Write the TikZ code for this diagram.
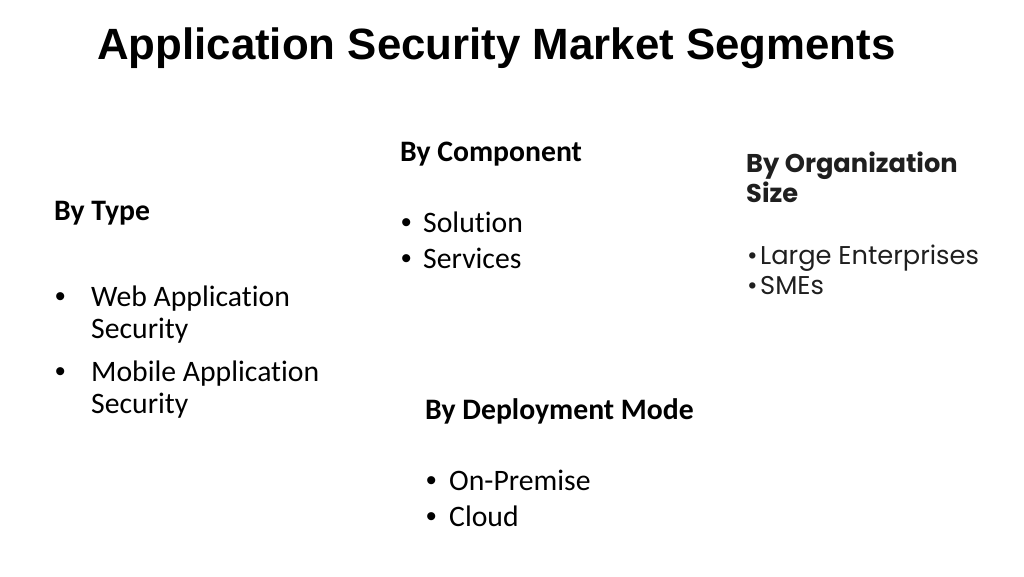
\documentclass[tikz,border=0pt]{standalone}
\usepackage{fontspec}
\setmainfont[Ligatures=NoCommon]{Carlito}
\newfontfamily\titlefont{Liberation Sans}
\newfontfamily\popfont{Poppins}
\usetikzlibrary{positioning}
\tikzset{
  titletext/.style={anchor=base west, inner sep=0pt, font=\titlefont\bfseries\fontsize{43.8}{50}\selectfont},
  headtext/.style={anchor=base west, inner sep=0pt, font=\bfseries\fontsize{29.7}{35}\selectfont},
  itemtext/.style={anchor=base west, inner sep=0pt, font=\fontsize{29.7}{35}\selectfont},
  bullettext/.style={anchor=base west, inner sep=0pt, font=\titlefont\fontsize{29.7}{35}\selectfont},
  pophead/.style={anchor=base west, inner sep=0pt, font=\popfont\bfseries\fontsize{25.7}{31}\selectfont, text=black!88},
  popitem/.style={anchor=base west, inner sep=0pt, font=\popfont\fontsize{25.7}{31}\selectfont, text=black!88}
}
\begin{document}
\begin{tikzpicture}[x=1pt,y=-1pt]
  \useasboundingbox (0,0) rectangle (1024,576);
  \node[titletext] (title) at (97,59) {Application Security Market Segments};
  % by type
  \node[headtext] (type) at (54,220) {By Type};
  \node[bullettext] (typeb1) at (55,306) {•};
  \node[itemtext] (type1) at (91,306) {Web Application};
  \node[itemtext] (type1b) at (91,338) {Security};
  \node[bullettext] (typeb2) at (55,381) {•};
  \node[itemtext] (type2) at (91,381) {Mobile Application};
  \node[itemtext] (type2b) at (91,413) {Security};
  % by component
  \node[headtext] (comp) at (400,161) {By Component};
  \node[bullettext] (compb1) at (401,232) {•};
  \node[itemtext] (comp1) at (423,232) {Solution};
  \node[bullettext] (compb2) at (401,268) {•};
  \node[itemtext] (comp2) at (423,268) {Services};
  % by deployment mode
  \node[headtext] (depl) at (425,419) {By Deployment Mode};
  \node[bullettext] (deplb1) at (426,490) {•};
  \node[itemtext] (depl1) at (449,490) {On-Premise};
  \node[bullettext] (deplb2) at (426,526) {•};
  \node[itemtext] (depl2) at (449,526) {Cloud};
  % by organization size
  \node[pophead] (org) at (746,172) {By Organization};
  \node[pophead] (org2) at (746,202) {Size};
  \node[popitem] (orgb1) at (747,264) {•};
  \node[popitem] (org3) at (760,264) {Large Enterprises};
  \node[popitem] (orgb2) at (747,294) {•};
  \node[popitem] (org4) at (760,294) {SMEs};
\end{tikzpicture}
\end{document}
